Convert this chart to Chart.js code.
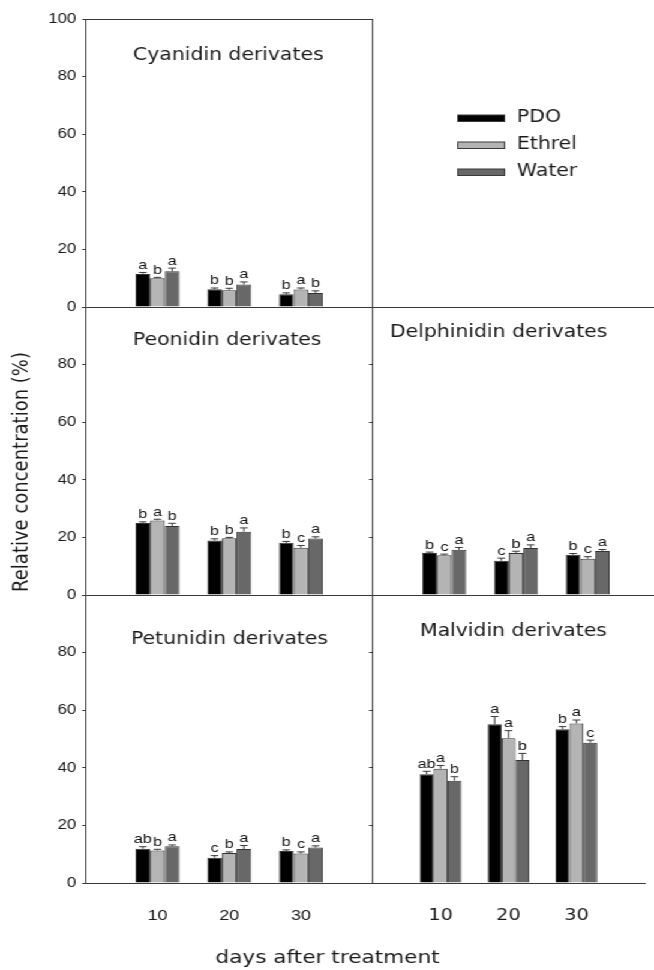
<!DOCTYPE html>
<html>
<head>
<meta charset="utf-8">
<script src="https://cdn.jsdelivr.net/npm/chart.js@4.4.0/dist/chart.umd.min.js"></script>
<style>
  html, body { margin: 0; padding: 0; background: #fff; overflow: hidden; }
  /* the reference figure is stretched horizontally, so the whole drawing is too */
  #figura { position: relative; width: 560px; height: 970px; transform: scaleX(1.2); transform-origin: 0 0; }
  #figura canvas { position: absolute; left: 0; top: 0; }
</style>
</head>
<body>
<div id="figura">
  <canvas id="cyanidin" width="560" height="970"></canvas>
  <canvas id="peonidin" width="560" height="970"></canvas>
  <canvas id="delphinidin" width="560" height="970"></canvas>
  <canvas id="petunidin" width="560" height="970"></canvas>
  <canvas id="malvidin" width="560" height="970"></canvas>
</div>
<script>
const days = ['10', '20', '30']
const treatments = ['PDO', 'Ethrel', 'Water']
const yTicks = [0, 20, 40, 60, 80, 100]

// each array: [PDO, Ethrel, Water], one value per day
const cyanidinMean = [[11.5, 6.2, 4.4], [10.0, 5.8, 6.1], [12.4, 7.8, 4.9]]
const cyanidinErr = [[0.5, 0.4, 0.5], [0.3, 0.7, 0.5], [1.1, 0.9, 0.7]]
const cyanidinLetters = [['a', 'b', 'b'], ['b', 'b', 'a'], ['a', 'a', 'b']]

const peonidinMean = [[25.0, 18.9, 18.1], [25.9, 19.7, 16.4], [24.0, 22.0, 19.6]]
const peonidinErr = [[0.4, 0.6, 0.5], [0.4, 0.3, 0.8], [0.9, 1.3, 0.6]]
const peonidinLetters = [['b', 'b', 'b'], ['a', 'b', 'c'], ['b', 'a', 'a']]

const delphinidinMean = [[14.6, 11.9, 14.0], [13.8, 14.6, 12.6], [15.7, 16.3, 15.3]]
const delphinidinErr = [[0.3, 0.9, 0.4], [0.4, 0.6, 0.7], [0.8, 1.1, 0.5]]
const delphinidinLetters = [['b', 'c', 'b'], ['c', 'b', 'c'], ['a', 'a', 'a']]

const petunidinMean = [[11.9, 8.8, 11.1], [11.3, 10.4, 10.2], [12.8, 11.8, 12.3]]
const petunidinErr = [[0.7, 0.7, 0.4], [0.4, 0.4, 0.6], [0.4, 1.2, 0.6]]
const petunidinLetters = [['ab', 'c', 'b'], ['b', 'b', 'c'], ['a', 'a', 'a']]

const malvidinMean = [[37.8, 55.1, 53.4], [39.7, 50.3, 55.4], [35.5, 42.7, 48.7]]
const malvidinErr = [[1.0, 2.7, 0.9], [1.1, 2.6, 1.2], [1.4, 2.3, 0.9]]
const malvidinLetters = [['ab', 'a', 'b'], ['a', 'a', 'a'], ['b', 'b', 'c']]

const cores = ['#000000', '#b4b4b4', '#686868']
const corLinha = '#3a3a3a'

// layout (unstretched px)
const LARGURA = 560, ALTURA = 970
const EIXO_Y = 40, EIXO_X = 50
const PAINEL_L = 239, PAINEL_A = 288
const X_ESQ = 71.5, X_DIR = 310.5
const Y_TOPO = 19, Y_MEIO = 307, Y_BAIXO = 595

// error bars, letters, panel title and extra frame lines
const extrasPainel = {
    id: 'extrasPainel',
    afterDatasetsDraw(chart) {
        const { ctx } = chart
        const y = chart.scales.y
        ctx.save()
        ctx.strokeStyle = corLinha
        ctx.lineWidth = 1
        ctx.fillStyle = '#111'
        ctx.font = '13.5px "Liberation Sans", Arial, sans-serif'
        ctx.textAlign = 'center'
        ctx.textBaseline = 'alphabetic'
        chart.data.datasets.forEach((ds, i) => {
            chart.getDatasetMeta(i).data.forEach((bar, j) => {
                const v = ds.data[j]
                if (v == null) return
                const yErr = y.getPixelForValue(v + ds.erros[j])
                ctx.beginPath()
                ctx.moveTo(bar.x, bar.y)
                ctx.lineTo(bar.x, yErr)
                ctx.moveTo(bar.x - 3.2, yErr)
                ctx.lineTo(bar.x + 3.2, yErr)
                ctx.stroke()
                ctx.fillText(ds.letras[j], bar.x, yErr - 3.5)
            })
        })
        ctx.restore()
    },
    afterDraw(chart, args, opts) {
        const { ctx, chartArea } = chart
        ctx.save()
        ctx.fillStyle = '#1a1a1a'
        ctx.font = '17px "DejaVu Sans", Verdana, sans-serif'
        ctx.textAlign = 'left'
        ctx.textBaseline = 'middle'
        ctx.fillText(opts.titulo, opts.tituloX, opts.tituloY)

        ctx.strokeStyle = corLinha
        ctx.lineWidth = 1
        ctx.beginPath()
        const topo = Math.round(chartArea.top) + 0.5
        const dir = Math.floor(chartArea.right) + 0.5
        if (opts.topo) {
            ctx.moveTo(chartArea.left, topo)
            ctx.lineTo(chartArea.right, topo)
        }
        if (opts.direita) {
            ctx.moveTo(dir, chartArea.top)
            ctx.lineTo(dir, chartArea.bottom)
        }
        ctx.stroke()
        ctx.restore()
    }
}

// legend and axis titles of the whole figure
const textosFigura = {
    id: 'textosFigura',
    afterDraw(chart) {
        const { ctx } = chart
        ctx.save()
        ctx.font = '17px "DejaVu Sans", Verdana, sans-serif'
        ctx.textBaseline = 'middle'
        ctx.textAlign = 'left'
        treatments.forEach((t, i) => {
            const yc = 118 + i * 27
            ctx.fillStyle = cores[i]
            ctx.fillRect(381.5, yc - 3, 39, 6.5)
            ctx.strokeStyle = corLinha
            ctx.lineWidth = 1
            ctx.strokeRect(381.5, yc - 3, 39, 6.5)
            ctx.fillStyle = '#1a1a1a'
            ctx.fillText(t, 430.8, yc)
        })

        ctx.font = '18px "DejaVu Sans", Verdana, sans-serif'
        ctx.textAlign = 'center'
        ctx.fillText('days after treatment', 273, 958)

        ctx.translate(18.5, 472)
        ctx.rotate(-Math.PI / 2)
        ctx.fillText('Relative concentration (%)', 0, 0)
        ctx.restore()
    }
}

function montarPainel(id, titulo, medias, erros, letras, pos) {
    const x0 = pos.lado === 'esq' ? X_ESQ : X_DIR
    const labels = ['', ...days, '']
    const datasets = treatments.map((t, i) => ({
        label: t,
        data: [null, ...medias[i], null],
        erros: [null, ...erros[i], null],
        letras: [null, ...letras[i], null],
        backgroundColor: cores[i],
        borderColor: '#333',
        borderWidth: 1,
        categoryPercentage: 0.613,
        barPercentage: 1.0
    }))

    const plugins = [extrasPainel]
    if (pos.figura) plugins.push(textosFigura)

    return new Chart(document.getElementById(id), {
        type: 'bar',
        data: { labels, datasets },
        plugins,
        options: {
            responsive: false,
            animation: false,
            layout: {
                padding: {
                    left: x0 - EIXO_Y,
                    top: pos.y0,
                    right: LARGURA - (x0 + PAINEL_L),
                    bottom: ALTURA - (pos.y0 + PAINEL_A) - EIXO_X
                }
            },
            plugins: {
                legend: { display: false },
                tooltip: { enabled: false },
                extrasPainel: {
                    titulo,
                    tituloX: pos.tituloX,
                    tituloY: pos.tituloY,
                    topo: pos.topo,
                    direita: pos.direita
                }
            },
            scales: {
                x: {
                    offset: false,
                    grid: { display: false, drawTicks: false },
                    border: { display: true, color: corLinha, width: 1 },
                    ticks: {
                        display: !!pos.rotulosX,
                        maxRotation: 0,
                        autoSkip: false,
                        padding: pos.lado === 'esq' ? 24 : 23,
                        color: '#1a1a1a',
                        font: pos.lado === 'esq'
                            ? { family: '"Liberation Sans", Arial, sans-serif', size: 15 }
                            : { family: '"DejaVu Sans", Verdana, sans-serif', size: 16 }
                    },
                    afterFit: s => { s.height = EIXO_X }
                },
                y: {
                    min: 0,
                    max: 100,
                    afterBuildTicks: s => { s.ticks = yTicks.map(v => ({ value: v })) },
                    grid: { display: true, drawOnChartArea: false, tickLength: 3, color: corLinha },
                    border: { display: true, color: corLinha, width: 1 },
                    ticks: {
                        padding: 5,
                        color: '#1a1a1a',
                        font: { family: '"Liberation Sans", Arial, sans-serif', size: 14 },
                        callback: v => {
                            if (pos.lado === 'dir') return ''
                            if (v === 100 && !pos.mostra100) return ''
                            return String(v)
                        }
                    },
                    afterFit: s => { s.width = EIXO_Y }
                }
            }
        }
    })
}

montarPainel('cyanidin', 'Cyanidin derivates', cyanidinMean, cyanidinErr, cyanidinLetters,
    { lado: 'esq', y0: Y_TOPO, mostra100: true, topo: true, direita: true, figura: true, tituloX: 110.8, tituloY: 56 })
montarPainel('peonidin', 'Peonidin derivates', peonidinMean, peonidinErr, peonidinLetters,
    { lado: 'esq', y0: Y_MEIO, tituloX: 110.8, tituloY: 341 })
montarPainel('delphinidin', 'Delphinidin derivates', delphinidinMean, delphinidinErr, delphinidinLetters,
    { lado: 'dir', y0: Y_MEIO, topo: true, tituloX: 325, tituloY: 333 })
montarPainel('petunidin', 'Petunidin derivates', petunidinMean, petunidinErr, petunidinLetters,
    { lado: 'esq', y0: Y_BAIXO, rotulosX: true, tituloX: 109.2, tituloY: 640 })
montarPainel('malvidin', 'Malvidin derivates', malvidinMean, malvidinErr, malvidinLetters,
    { lado: 'dir', y0: Y_BAIXO, rotulosX: true, tituloX: 350, tituloY: 631.5 })
</script>
</body>
</html>
